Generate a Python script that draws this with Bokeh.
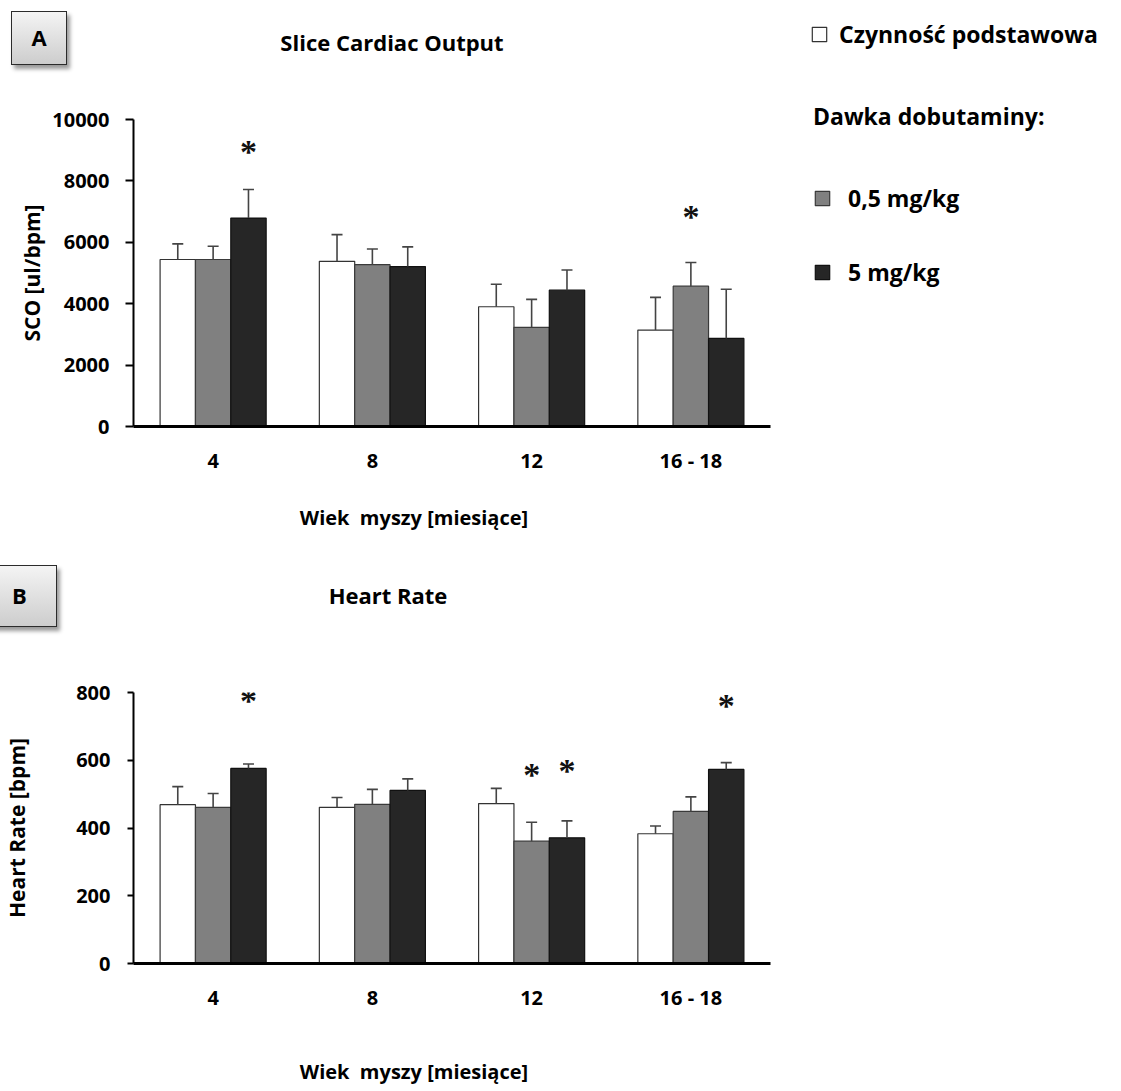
from bokeh.plotting import figure
from bokeh.models import (FactorRange, Range1d, FixedTicker, ColumnDataSource,
                          LabelSet, Legend, LegendItem, Div)
from bokeh.transform import dodge
from bokeh.layouts import column, row
from bokeh.embed import file_html
from bokeh.resources import INLINE

# ---------------- data ----------------
ages = ["4", "8", "12", "16 - 18"]
series_names = ["Czynność podstawowa", "0,5 mg/kg", "5 mg/kg"]

sco_base = [5440, 5380, 3900, 3140]
sco_base_err = [510, 870, 735, 1065]
sco_low = [5440, 5270, 3230, 4570]
sco_low_err = [430, 510, 910, 770]
sco_high = [6790, 5210, 4440, 2870]
sco_high_err = [930, 640, 660, 1600]
sco_ticks = [0, 2000, 4000, 6000, 8000, 10000]

hr_base = [469, 461, 472, 383]
hr_base_err = [53, 29, 45, 23]
hr_low = [461, 470, 361, 449]
hr_low_err = [41, 44, 56, 43]
hr_high = [576, 511, 371, 573]
hr_high_err = [13, 34, 50, 20]
hr_ticks = [0, 200, 400, 600, 800]

# significance marks: age group, series index, level
sco_star_age = ["4", "16 - 18"]
sco_star_series = [2, 1]
sco_star_y = [9050, 6930]
hr_star_age = ["4", "12", "12", "16 - 18"]
hr_star_series = [2, 1, 2, 2]
hr_star_y = [785, 566, 580, 770]

panel_titles = ["Slice Cardiac Output", "Heart Rate"]
x_title = "Wiek  myszy [miesiące]"

# ---------------- style ----------------
FONT = "Open Sans"
FILLS = ["#ffffff", "#808080", "#262626"]
LINES = ["#333333", "#3a3a3a", "#111111"]
ERR = "#444444"
OFFS = [-0.222, 0.0, 0.222]
BW = 0.222
LW = 800      # width of the left column
RW = 321      # width of the legend column


def blank(width, height):
    p = figure(width=width, height=height, x_range=Range1d(0, 1),
               y_range=Range1d(0, 1), output_backend="svg",
               toolbar_location=None, min_border=0,
               x_axis_location=None, y_axis_location=None)
    p.title = None
    p.outline_line_color = None
    p.grid.visible = False
    return p


def box_html(letter, left, top, w, h):
    return (f'<div style="position:absolute;left:{left}px;top:{top}px;'
            f'width:{w}px;height:{h}px;box-sizing:border-box;'
            'border:1.5px solid #2b2b2b;'
            'background:linear-gradient(#f4f4f4,#cdcdcd);'
            'box-shadow:3px 4px 4px rgba(0,0,0,0.40);'
            "font-family:'Open Sans';font-weight:bold;font-size:22px;"
            'color:black;display:flex;align-items:center;'
            f'justify-content:center;">{letter}</div>')


def text_html(text, cx, cy, size):
    return (f'<div style="position:absolute;left:{cx - 250}px;width:500px;'
            f'top:{cy}px;transform:translateY(-50%);text-align:center;'
            "font-family:'Open Sans';font-weight:bold;"
            f'font-size:{size}px;line-height:1.2;color:black;'
            f'white-space:pre;">{text}</div>')


def strip(width, height, parts):
    html = (f'<div style="position:relative;width:{width}px;'
            f'height:{height}px;overflow:visible;">' + "".join(parts) +
            '</div>')
    return Div(text=html, width=width, height=height, margin=0)


def panel(height, left, right, top, bottom, vals, errs, ticks, ymax,
          star_age, star_series, star_y, ylabel, tick_out, tick_standoff,
          label_standoff):
    p = figure(width=LW, height=height, x_range=FactorRange(factors=ages),
               y_range=Range1d(0, ymax), output_backend="svg",
               toolbar_location=None, min_border_left=left,
               min_border_right=right, min_border_top=top,
               min_border_bottom=bottom)
    p.title = None
    p.outline_line_color = None
    p.grid.visible = False

    data = dict(age=ages)
    for i in range(3):
        data[f"v{i}"] = vals[i]
        data[f"t{i}"] = [v + e for v, e in zip(vals[i], errs[i])]
    src = ColumnDataSource(data)

    for i in range(3):
        xx = dodge("age", OFFS[i], range=p.x_range)
        p.vbar(x=xx, top=f"v{i}", width=BW, source=src,
               fill_color=FILLS[i], line_color=LINES[i], line_width=1.2)
        p.segment(x0=xx, y0=f"v{i}", x1=xx, y1=f"t{i}", source=src,
                  line_color=ERR, line_width=1.6)
        p.scatter(x=xx, y=f"t{i}", marker="dash", size=11, source=src,
                  line_color=ERR, line_width=1.6)

    for i in range(3):
        sa = [a for a, s in zip(star_age, star_series) if s == i]
        sy = [y for y, s in zip(star_y, star_series) if s == i]
        if not sa:
            continue
        ssrc = ColumnDataSource(dict(age=sa, y=sy, t=["*"] * len(sa)))
        p.add_layout(LabelSet(x=dodge("age", OFFS[i], range=p.x_range), y="y",
                              text="t", source=ssrc, text_align="center",
                              text_baseline="middle", y_offset=-3,
                              text_font="DejaVu Sans", text_font_style="bold",
                              text_font_size="34px", text_color="#111111"))

    yax = p.yaxis[0]
    yax.ticker = FixedTicker(ticks=ticks)
    yax.minor_tick_line_color = None
    yax.major_tick_out = tick_out
    yax.major_tick_in = 0
    yax.major_tick_line_width = 2
    yax.axis_line_width = 2
    yax.axis_line_color = "black"
    yax.major_label_text_font = FONT
    yax.major_label_text_font_style = "bold"
    yax.major_label_text_font_size = "20px"
    yax.major_label_text_color = "black"
    yax.major_label_standoff = tick_standoff
    yax.axis_label = ylabel
    yax.axis_label_text_font = FONT
    yax.axis_label_text_font_style = "bold"
    yax.axis_label_text_font_size = "21px"
    yax.axis_label_text_color = "black"
    yax.axis_label_standoff = label_standoff

    xax = p.xaxis[0]
    xax.axis_line_width = 3
    xax.axis_line_color = "black"
    xax.major_tick_line_color = None
    xax.minor_tick_line_color = None
    xax.major_tick_out = 0
    xax.major_label_text_font = FONT
    xax.major_label_text_font_style = "bold"
    xax.major_label_text_font_size = "20px"
    xax.major_label_text_color = "black"
    xax.major_label_standoff = 20
    return p


# header of panel A (page y 0..100)
hA = strip(LW, 100, [box_html("A", 11, 11, 56, 54),
                     text_html(panel_titles[0], 392, 42, 22)])

# panel A (page y 100..480)
pA = panel(380, 131, 30, 19, 54,
           [sco_base, sco_low, sco_high],
           [sco_base_err, sco_low_err, sco_high_err],
           sco_ticks, 10000, sco_star_age, sco_star_series, sco_star_y,
           "SCO [ul/bpm]", 8, 16, 3)

# strip between panels (page y 480..675)
mid = strip(LW, 195, [text_html(x_title, 414, 38, 20),
                      box_html("B", -18, 85, 75, 62),
                      text_html(panel_titles[1], 388, 115, 22)])

# panel B (page y 675..1013)
pB = panel(338, 133, 26, 17, 50,
           [hr_base, hr_low, hr_high],
           [hr_base_err, hr_low_err, hr_high_err],
           hr_ticks, 800, hr_star_age, hr_star_series, hr_star_y,
           "Heart Rate [bpm]", 6, 17, 42)

# bottom strip (page y 1013..1091)
bot = strip(LW, 78, [text_html(x_title, 414, 59, 20)])

# legend column (swatch renderers sit outside the visible range)
LH = 300
lg = blank(RW, LH)
swatches = []
for i in range(3):
    swatches.append(lg.vbar(x=[-1000], top=[-1000], bottom=[-1001], width=1,
                            fill_color=FILLS[i], line_color=LINES[i],
                            line_width=1.2))

leg_common = dict(padding=0, margin=0, border_line_color=None,
                  background_fill_alpha=0, glyph_width=18, glyph_height=18,
                  label_text_font=FONT, label_text_font_style="bold",
                  label_text_font_size="23px", label_text_color="black")
leg1 = Legend(items=[LegendItem(label=series_names[0], renderers=[swatches[0]])],
              location=(10, LH - 50), label_standoff=11, **leg_common)
leg2 = Legend(items=[LegendItem(label=series_names[1], renderers=[swatches[1]]),
                     LegendItem(label=series_names[2], renderers=[swatches[2]])],
              location=(13, LH - 288), label_standoff=17, spacing=42,
              title="Dawka dobutaminy:", title_text_font=FONT,
              title_text_font_style="bold", title_text_font_size="23px",
              title_text_color="black", title_standoff=50, **leg_common)
lg.add_layout(leg1)
lg.add_layout(leg2)

layout = row(column(hA, pA, mid, pB, bot), lg)
open("out.html", "w").write(file_html(layout, INLINE))
